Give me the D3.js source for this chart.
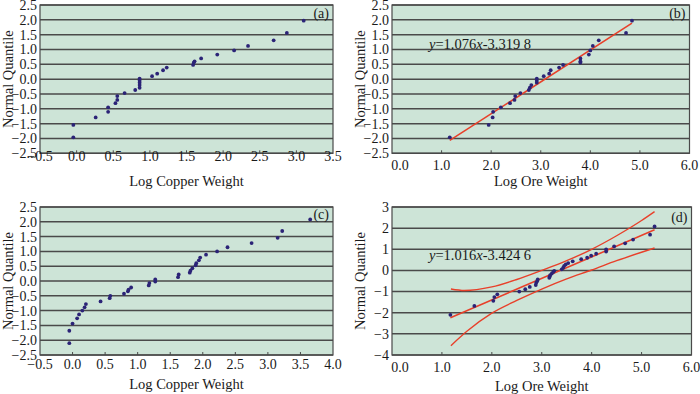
<!DOCTYPE html>
<html>
<head>
<meta charset="utf-8">
<script src="https://cdn.jsdelivr.net/npm/d3@7"></script>
<style>
  body { margin: 0; background: #fff; }
  text { font-family: "Liberation Serif", "Times New Roman", serif; fill: #1a1a1a; }
</style>
</head>
<body>
<div id="chart"></div>
<script>
// normal quantiles, (a) and (b) share them
const qAB = [-1.96, -1.545, -1.29, -1.1, -0.95, -0.81, -0.70, -0.57, -0.47, -0.365,
    -0.29, -0.20, -0.12, -0.05, 0.02, 0.10, 0.185, 0.30, 0.39, 0.48,
    0.56, 0.60, 0.70, 0.83, 0.97, 1.12, 1.31, 1.56, 1.97];
const copperA = [-0.045, -0.045, 0.26, 0.43, 0.43, 0.53, 0.555, 0.555, 0.655, 0.80,
    0.86, 0.86, 0.86, 0.86, 0.86, 1.03, 1.10, 1.18, 1.23, 1.59,
    1.60, 1.61, 1.70, 1.92, 2.15, 2.34, 2.69, 2.87, 3.10];
const oreB = [1.165, 1.95, 2.03, 2.04, 2.195, 2.38, 2.47, 2.485, 2.59, 2.76,
    2.78, 2.81, 2.92, 2.92, 2.92, 3.06, 3.17, 3.20, 3.37, 3.45,
    3.80, 3.80, 3.80, 3.97, 4.00, 4.05, 4.17, 4.72, 4.84];

// (c) and (d)
const qCD = [-2.10, -1.68, -1.44, -1.26, -1.13, -1.0, -0.89, -0.78, -0.69, -0.58,
    -0.50, -0.43, -0.35, -0.29, -0.22, -0.15, -0.07, -0.02, 0.05, 0.13,
    0.22, 0.28, 0.35, 0.43, 0.53, 0.60, 0.70, 0.79, 0.89, 1.0,
    1.14, 1.28, 1.46, 1.69, 2.08];
const copperC = [-0.05, -0.05, 0.0, 0.07, 0.10, 0.15, 0.185, 0.205, 0.43, 0.57,
    0.58, 0.79, 0.85, 0.86, 0.90, 1.17, 1.18, 1.27, 1.27, 1.62,
    1.63, 1.80, 1.81, 1.84, 1.89, 1.90, 1.94, 1.96, 2.05, 2.22,
    2.38, 2.75, 3.15, 3.22, 3.65];
const oreD = [1.17, 1.65, 2.03, 2.05, 2.11, 2.55, 2.67, 2.76, 2.88, 2.89,
    2.91, 2.92, 3.15, 3.16, 3.17, 3.20, 3.23, 3.25, 3.40, 3.43,
    3.45, 3.48, 3.53, 3.62, 3.79, 3.91, 3.99, 4.09, 4.29, 4.29,
    4.45, 4.67, 4.83, 5.17, 5.26];

// fitted lines (end points) and confidence bands of (d)
const fitB = [[1.165, -2.066], [4.84, 1.888]];
const fitD = [[1.17, -2.236], [5.26, 1.92]];
const upperD = [[1.18, -0.88], [1.45, -0.95], [2.0, -0.78], [2.5, -0.43], [3.0, 0.0],
    [3.5, 0.46], [4.0, 1.0], [4.5, 1.64], [5.0, 2.36], [5.26, 2.78]];
const lowerD = [[1.18, -3.56], [1.5, -2.88], [2.0, -2.02], [2.5, -1.42], [3.0, -0.88],
    [3.5, -0.40], [4.0, 0.02], [4.5, 0.46], [5.0, 0.86], [5.26, 1.06]];

const ticksHalf = [-2.5, -2.0, -1.5, -1.0, -0.5, 0.0, 0.5, 1.0, 1.5, 2.0, 2.5];
const ticksD = [-4, -3, -2, -1, 0, 1, 2, 3];
const xTicksA = [-0.5, 0, 0.5, 1, 1.5, 2, 2.5, 3, 3.5];
const xTicksC = [-0.5, 0, 0.5, 1, 1.5, 2, 2.5, 3, 3.5, 4];
const xTicksOre = [0, 1, 2, 3, 4, 5, 6];

const svg = d3.select("#chart").append("svg")
    .attr("width", 700)
    .attr("height", 394);

const panel = (p) => {
    const x = d3.scaleLinear().domain(p.xd).range([p.l, p.r]);
    const y = d3.scaleLinear().domain(p.yd).range([p.b, p.t]);
    const g = svg.append("g");

    g.append("rect")
        .attr("x", p.l).attr("y", p.t)
        .attr("width", p.r - p.l).attr("height", p.b - p.t)
        .attr("fill", "#cde4d7");

    g.selectAll("line.grid")
        .data(p.yt)
        .join("line")
        .attr("x1", p.l).attr("x2", p.r)
        .attr("y1", d => y(d)).attr("y2", d => y(d))
        .attr("stroke", "#4a4a4a")
        .attr("stroke-width", 1.5);

    g.append("rect")
        .attr("x", p.l).attr("y", p.t)
        .attr("width", p.r - p.l).attr("height", p.b - p.t)
        .attr("fill", "none")
        .attr("stroke", "#4a4a4a")
        .attr("stroke-width", 1.2);

    // small ticks pointing into the plot
    g.selectAll("line.xt")
        .data(p.xt.slice(1, -1))
        .join("line")
        .attr("x1", d => x(d)).attr("x2", d => x(d))
        .attr("y1", p.b).attr("y2", p.b - 3)
        .attr("stroke", "#4a4a4a");

    g.selectAll("text.yl")
        .data(p.yt)
        .join("text")
        .attr("x", p.l - 3)
        .attr("y", d => y(d))
        .attr("dy", "0.35em")
        .attr("text-anchor", "end")
        .attr("font-size", 14)
        .text(d => p.yf(d));

    g.selectAll("text.xl")
        .data(p.xt)
        .join("text")
        .attr("x", (d, i) => x(d) + (i == 0 && d == 0 ? 8 : 0))
        .attr("y", p.b + p.xlab)
        .attr("dy", "0.35em")
        .attr("text-anchor", "middle")
        .attr("font-size", 14)
        .text(d => d3.format(".1f")(d));

    g.append("text")
        .attr("x", (p.l + p.r) / 2)
        .attr("y", p.b + p.xtitle)
        .attr("dy", "0.35em")
        .attr("text-anchor", "middle")
        .attr("font-size", 14.5)
        .text(p.xname);

    g.append("text")
        .attr("transform", `translate(${p.l - 32},${(p.t + p.b) / 2}) rotate(-90)`)
        .attr("dy", "0.35em")
        .attr("text-anchor", "middle")
        .attr("font-size", 14.5)
        .text("Normal Quantile");

    g.append("text")
        .attr("x", p.r - 4)
        .attr("y", p.t + p.tagY)
        .attr("dy", "0.35em")
        .attr("text-anchor", "end")
        .attr("font-size", 14)
        .text(p.tag);

    const line = d3.line().x(d => x(d[0])).y(d => y(d[1]));
    const curve = d3.line().curve(d3.curveMonotoneX).x(d => x(d[0])).y(d => y(d[1]));

    (p.bands || []).forEach(b => {
        g.append("path")
            .attr("d", curve(b))
            .attr("fill", "none")
            .attr("stroke", "#e8402a")
            .attr("stroke-width", 1.4);
    });

    if (p.fit) {
        g.append("path")
            .attr("d", line(p.fit))
            .attr("fill", "none")
            .attr("stroke", "#e8402a")
            .attr("stroke-width", 1.6);
    }

    g.selectAll("circle")
        .data(p.xs.map((v, i) => [v, p.ys[i]]))
        .join("circle")
        .attr("cx", d => x(d[0]))
        .attr("cy", d => y(d[1]))
        .attr("r", 1.9)
        .attr("fill", "#2b2377");

    if (p.eq) {
        const t = g.append("text")
            .attr("x", p.eq.x)
            .attr("y", p.eq.y)
            .attr("dy", "0.35em")
            .attr("font-size", 14.5);
        t.append("tspan").attr("font-style", "italic").text("y");
        t.append("tspan").text(p.eq.a);
        t.append("tspan").attr("font-style", "italic").text("x");
        t.append("tspan").text(p.eq.b);
    }
};

const f1 = d3.format(".1f");

panel({l: 40, r: 333, t: 5, b: 153.3, xd: [-0.5, 3.5], yd: [-2.5, 2.5],
    yt: ticksHalf, yf: f1, xt: xTicksA, xlab: 2.5, xtitle: 28,
    xname: "Log Copper Weight", tag: "(a)", tagY: 8, xs: copperA, ys: qAB});

panel({l: 392, r: 689.5, t: 5, b: 153.3, xd: [0, 6], yd: [-2.5, 2.5],
    yt: ticksHalf, yf: f1, xt: xTicksOre, xlab: 12, xtitle: 28,
    xname: "Log Ore Weight", tag: "(b)", tagY: 8, xs: oreB, ys: qAB,
    fit: fitB, eq: {x: 429, y: 44, a: "=1.076", b: "-3.319 8"}});

panel({l: 40, r: 333, t: 207, b: 355, xd: [-0.5, 4], yd: [-2.5, 2.5],
    yt: ticksHalf, yf: f1, xt: xTicksC, xlab: 9.5, xtitle: 29,
    xname: "Log Copper Weight", tag: "(c)", tagY: 7, xs: copperC, ys: qCD});

panel({l: 392, r: 691.5, t: 207, b: 355, xd: [0, 6], yd: [-4, 3],
    yt: ticksD, yf: d3.format("d"), xt: xTicksOre, xlab: 11.7, xtitle: 31,
    xname: "Log Ore Weight", tag: "(d)", tagY: 10, xs: oreD, ys: qCD,
    fit: fitD, bands: [upperD, lowerD], eq: {x: 429, y: 255, a: "=1.016", b: "-3.424 6"}});
</script>
</body>
</html>
